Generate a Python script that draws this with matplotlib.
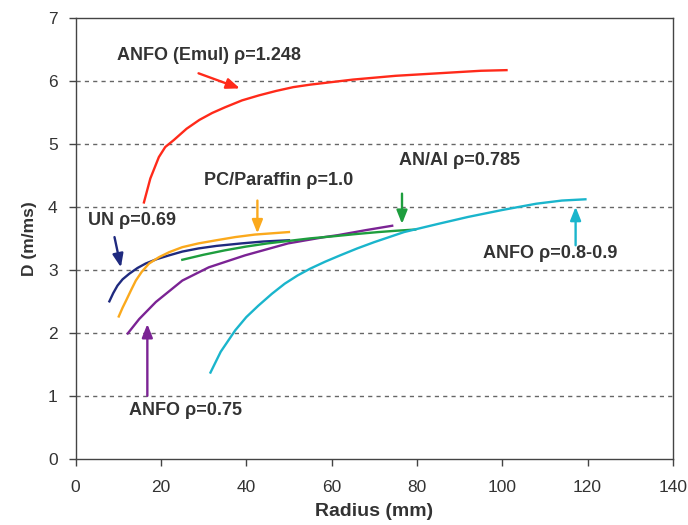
import matplotlib.pyplot as plt

# Detonation velocity vs charge radius for several explosives
r_emul = [16, 17.5, 19.5, 21, 23, 26, 29, 32, 35, 39, 43, 47, 51, 55, 60, 65, 70, 75, 80, 85, 90, 95, 101]
d_emul = [4.07, 4.45, 4.79, 4.95, 5.06, 5.24, 5.38, 5.49, 5.58, 5.69, 5.77, 5.84, 5.90, 5.94, 5.98, 6.02, 6.05, 6.08, 6.10, 6.12, 6.14, 6.16, 6.17]

r_anfo89 = [31.6, 34, 37.4, 40, 42.8, 46, 49, 52, 55, 58.5, 62, 66, 70, 77, 85, 92, 100, 108, 114, 119.5]
d_anfo89 = [1.37, 1.70, 2.04, 2.25, 2.43, 2.62, 2.78, 2.91, 3.02, 3.13, 3.23, 3.34, 3.44, 3.60, 3.73, 3.84, 3.95, 4.05, 4.10, 4.12]

r_un = [7.9, 8.8, 9.8, 11, 12.6, 14.5, 16.4, 19, 21.9, 25, 28.8, 33, 38.9, 44, 50]
d_un = [2.50, 2.63, 2.75, 2.85, 2.94, 3.03, 3.10, 3.17, 3.23, 3.29, 3.34, 3.38, 3.42, 3.45, 3.47]

r_pc = [10.1, 11, 11.8, 13, 14.1, 15.5, 17.2, 19.5, 21.9, 25, 28.8, 33, 37.4, 42, 46, 50]
d_pc = [2.26, 2.40, 2.51, 2.68, 2.83, 2.97, 3.10, 3.20, 3.28, 3.36, 3.42, 3.47, 3.52, 3.56, 3.58, 3.60]

r_anfo75 = [12.2, 14.9, 18.8, 25, 31.2, 39.7, 49.8, 58.3, 61.4, 68, 74.2]
d_anfo75 = [1.99, 2.22, 2.49, 2.83, 3.04, 3.23, 3.42, 3.52, 3.55, 3.63, 3.70]

r_anal = [25, 30, 35, 40, 45, 50, 55, 60, 66, 71, 75, 79.6]
d_anal = [3.16, 3.24, 3.31, 3.37, 3.42, 3.46, 3.50, 3.53, 3.57, 3.60, 3.62, 3.64]

series = [
    (r_un, d_un, "#1f2a7f"),
    (r_pc, d_pc, "#fba91c"),
    (r_anfo75, d_anfo75, "#7b2394"),
    (r_anal, d_anal, "#1e9e3e"),
    (r_anfo89, d_anfo89, "#1ab5cc"),
    (r_emul, d_emul, "#ff2a1a"),
]

# label text, label position, arrow tail, arrow head, colour
labels = [
    ("ANFO (Emul) ρ=1.248", (9.8, 6.41), (28.8, 6.12), (38.5, 5.88), "#ff2a1a"),
    ("PC/Paraffin ρ=1.0", (30, 4.42), (42.6, 4.10), (42.6, 3.58), "#fba91c"),
    ("UN ρ=0.69", (2.9, 3.79), (9.1, 3.52), (10.6, 3.04), "#1f2a7f"),
    ("ANFO ρ=0.75", (12.6, 0.76), (16.8, 1.0), (16.8, 2.14), "#7b2394"),
    ("AN/Al ρ=0.785", (75.7, 4.74), (76.5, 4.21), (76.5, 3.73), "#1e9e3e"),
    ("ANFO ρ=0.8-0.9", (95.5, 3.26), (117.2, 3.39), (117.2, 4.0), "#1ab5cc"),
]

plt.rcParams['font.family'] = ['Liberation Sans', 'DejaVu Sans']

fig = plt.figure(figsize=(6.88, 5.25), dpi=100)
ax = fig.add_axes([0.110, 0.126, 0.868, 0.840])

for r, d, c in series:
    ax.plot(r, d, color=c, lw=1.7)

for text, pos, tail, head, c in labels:
    ax.annotate("", xy=head, xytext=tail,
                arrowprops=dict(arrowstyle="-|>,head_length=0.8,head_width=0.32",
                                color=c, lw=1.7, shrinkA=0, shrinkB=0))
    ax.text(pos[0], pos[1], text, fontsize=13, fontweight="bold",
            color="#333333", va="center", ha="left")

ax.set_xlim(0, 140)
ax.set_ylim(0, 7)
ax.set_xticks(range(0, 141, 20))
ax.set_yticks(range(0, 8))
for y in range(1, 7):
    ax.axhline(y, color="#666666", lw=1, ls=(0, (3, 3)), zorder=0)

for s in ax.spines.values():
    s.set_color("#444444")
    s.set_linewidth(1)
ax.tick_params(direction="out", length=5, width=1, color="#444444",
               labelsize=12.5, labelcolor="#333333")
ax.tick_params(axis="y", pad=8)
ax.tick_params(axis="x", pad=10)

ax.set_xlabel("Radius (mm)", fontsize=14, fontweight="bold", color="#333333", labelpad=6)
ax.set_ylabel("D (m/ms)", fontsize=12.5, fontweight="bold", color="#333333", labelpad=8)

fig.savefig("out.png", dpi=100)
